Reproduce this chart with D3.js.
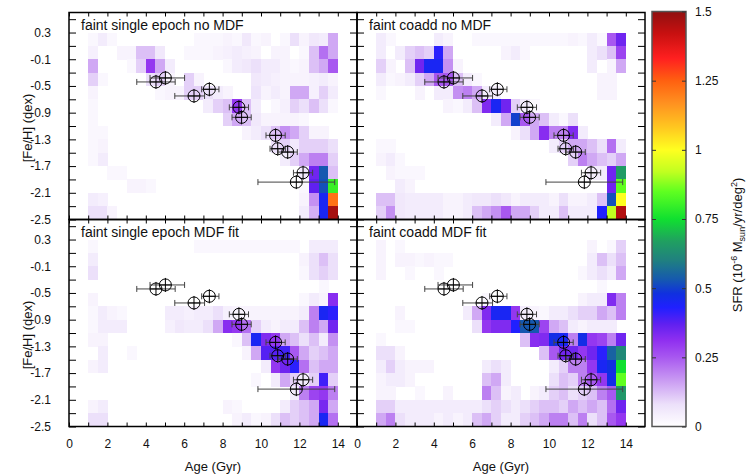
<!DOCTYPE html>
<html>
<head>
<meta charset="utf-8">
<script src="https://cdn.jsdelivr.net/npm/d3@7"></script>
<style>
body { margin: 0; background: #fff; }
svg { font-family: "Liberation Sans", Arial, Helvetica, sans-serif; }
</style>
</head>
<body>
<svg id="chart" width="747" height="476"></svg>
<script>
// bins: left edge of each age column (Gyr), top edge of each [Fe/H] row (dex)
const ageBins = [1.0, 1.5, 2.0, 2.5, 3.0, 3.5, 4.0, 4.5, 5.0, 5.5, 6.0, 6.5, 7.0, 7.5,
                 8.0, 8.5, 9.0, 9.5, 10.0, 10.5, 11.0, 11.5, 12.0, 12.5, 13.0, 13.5];
const fehBins = [0.3, 0.1, -0.1, -0.3, -0.5, -0.7, -0.9, -1.1, -1.3, -1.5, -1.7, -1.9, -2.1, -2.3];
const ageBinWidth = 0.5, fehBinWidth = 0.2;

const ageTicks = [0, 2, 4, 6, 8, 10, 12, 14];
const ageMinor = [1, 3, 5, 7, 9, 11, 13];
const fehTicks = [-2.5, -2.1, -1.7, -1.3, -0.9, -0.5, -0.1, 0.3];
const fehTickLabels = ['-2.5', '-2.1', '-1.7', '-1.3', '-0.9', '-0.5', '-0.1', '0.3'];
const fehMinor = [-2.3, -1.9, -1.5, -1.1, -0.7, -0.3, 0.1, 0.5];
const sfrTicks = [0, 0.25, 0.5, 0.75, 1, 1.25, 1.5];
const sfrTickLabels = ['0', '0.25', '0.5', '0.75', '1', '1.25', '1.5'];

// SFR per cell, rows top ([Fe/H] 0.1..0.3) to bottom, columns 1..14 Gyr
const sfrSingleNoMdf = [
  [.02,.05,.02,0,0,0,0,0,0,0,0,.02,.02,.02,.03,.02,.06,.02,.03,0,.02,.08,.03,.06,.05,.15],
  [.04,0,0,.03,.03,.12,.12,.06,0,0,.02,.02,.02,.03,.04,.05,.04,.03,0,.03,.03,0,.02,.12,.22,.15],
  [.15,0,0,0,.02,.1,.3,.15,.05,0,0,0,0,0,.02,.05,.06,.08,.05,.05,.03,.02,.03,.12,.15,.25],
  [.1,.02,0,0,0,0,.08,.1,.03,0,.1,.03,0,0,0,0,0,.06,.05,.04,.03,.03,.03,.04,.05,.03],
  [.03,0,0,0,0,0,0,.02,.03,.03,.1,.1,.08,.05,.03,0,0,.07,.03,.05,.03,.15,.15,.04,.1,.05],
  [.02,0,0,0,0,0,0,0,0,0,0,0,.05,.1,.12,.3,.12,.05,0,.02,.04,.1,.08,.12,.08,.02],
  [.02,0,0,0,0,0,0,0,0,0,0,0,0,0,.1,.15,.12,.06,.03,.03,.03,.03,.02,0,0,0],
  [.02,.02,0,0,0,0,0,0,0,0,0,0,0,0,0,0,.03,.05,.08,.12,.18,.15,.1,.03,.03,0],
  [.02,.03,0,0,0,0,0,0,0,0,0,0,0,0,0,0,0,0,0,.08,.1,.06,.1,.1,.1,.08],
  [.02,.05,0,0,0,0,0,0,0,0,0,0,0,0,0,0,0,0,0,0,.05,.1,.15,.2,.2,.1],
  [0,0,.02,.02,0,0,0,0,0,0,0,0,0,0,0,0,0,0,0,0,0,0,.06,.35,.53,.12],
  [0,0,0,0,.03,.03,.02,0,0,0,0,0,0,0,0,0,0,0,0,0,0,0,.02,.37,.52,.8],
  [.05,.04,0,0,0,0,0,0,0,0,0,0,0,0,0,0,0,0,0,0,0,0,.03,.18,.45,1.22],
  [.08,.08,.03,0,0,0,0,0,0,0,0,0,0,0,0,0,0,0,0,0,0,0,.05,.14,.45,1.47]
];
const sfrCoaddNoMdf = [
  [.05,.02,0,0,0,0,.05,.03,0,0,.02,.02,.02,.02,.02,.02,.02,.02,.02,.02,.03,.02,.05,.02,.25,.35],
  [.05,0,.05,.1,.12,.1,.42,.15,0,0,0,0,0,.03,.05,.02,0,0,0,0,0,0,.05,.08,.12,.28],
  [.1,.03,0,.12,.35,.45,.45,.18,.03,0,0,0,0,0,0,0,0,0,0,0,0,0,.05,0,.03,.15],
  [.05,.02,.03,.05,.1,.15,.25,.25,.12,.05,.02,0,0,0,0,0,0,0,0,0,0,0,0,.03,.03,0],
  [.02,0,0,0,.03,0,.05,.05,.18,.2,.15,.05,.04,0,0,0,0,0,0,0,0,0,0,.03,.03,0],
  [0,0,0,0,0,0,0,.03,.02,.05,.12,.33,.45,.35,.1,.05,.02,0,0,0,0,0,0,0,0,0],
  [0,0,0,0,0,0,0,0,0,0,0,0,.05,.15,.5,.25,.15,.12,.05,.02,.08,0,0,0,0,0],
  [0,0,0,0,0,0,0,0,0,0,0,0,0,0,.03,.08,.15,.32,.2,.2,.33,.05,0,0,0,0],
  [.02,.02,0,0,0,0,0,0,0,0,0,0,0,0,0,0,0,0,.05,.1,.15,.15,.12,.08,.22,.05],
  [.03,.05,.02,0,0,0,0,0,0,0,0,0,0,0,0,0,0,0,0,0,.1,.2,.15,.12,.1,.15],
  [0,.03,.02,.02,.02,0,0,0,0,0,0,0,0,0,0,0,0,0,0,0,0,0,.05,.05,.35,.66],
  [0,0,.05,.03,0,0,0,0,0,0,0,0,0,0,0,0,0,0,0,0,0,0,0,0,.35,.85],
  [.12,.12,.06,.05,.05,.05,.05,.03,.03,.05,.06,.06,.08,.06,.03,.05,.05,.05,.03,.08,.03,.03,.05,.12,.52,1.0],
  [.1,.18,.06,.05,.05,.05,.05,.03,.03,.05,.12,.15,.18,.25,.15,.15,.1,.05,.05,.12,.05,.05,.05,.43,.92,1.45]
];
const sfrSingleMdf = [
  [.02,0,0,0,0,0,0,0,0,0,0,.02,.02,.02,.02,.02,.02,.02,.02,.02,.02,.02,0,.05,.05,.05],
  [.05,0,0,0,0,0,0,0,0,0,0,0,0,0,0,0,0,0,0,0,0,0,.03,.08,.12,.08],
  [.08,0,0,0,0,0,0,0,0,0,0,0,0,0,0,0,0,0,0,0,0,0,.02,.08,.1,.08],
  [0,0,0,0,0,0,0,0,0,0,0,0,0,0,0,0,0,0,0,0,0,0,0,0,.02,0],
  [.03,0,0,0,0,0,0,0,0,0,0,0,0,0,0,0,0,0,0,0,0,0,.02,.05,.03,.32],
  [.02,.05,.03,.02,0,0,0,0,.05,.05,.04,.05,.05,.08,.04,.03,.03,.03,.03,.03,.03,.03,.05,.2,.45,.42],
  [.02,.05,.05,.05,0,0,0,0,.04,.06,.05,.05,.08,.15,.32,.3,.22,.1,.05,.03,.05,.05,.12,.2,.15,.35],
  [.03,.03,0,0,0,0,0,0,0,0,0,0,0,0,0,.02,.12,.45,.33,.3,.15,.12,.08,.12,.05,.18],
  [0,.05,0,0,.02,0,0,0,0,0,0,0,0,0,0,0,.03,.15,.38,.38,.4,.25,.15,.1,.12,.15],
  [.03,.05,0,0,0,0,0,0,0,0,0,0,0,0,0,0,0,0,.05,.3,.35,.42,.22,.12,.15,.15],
  [0,0,0,0,0,0,0,0,0,0,0,0,0,0,0,0,0,.02,0,.05,.15,.1,.05,.1,.4,.1],
  [0,0,0,0,0,0,0,0,0,0,0,0,0,0,0,0,0,0,0,0,0,.05,.2,.28,.3,.2],
  [.03,.05,0,0,0,0,0,0,0,0,0,0,0,0,.03,.02,0,0,0,0,.05,.1,.12,.15,.34,.15],
  [.08,.08,0,0,0,0,0,0,0,0,0,0,0,0,0,.03,.05,.02,.03,.08,.12,.1,.12,.15,.45,.22]
];
const sfrCoaddMdf = [
  [.03,0,.02,0,0,0,0,0,0,0,0,0,0,0,0,0,0,0,0,0,0,0,.03,0,.02,.1],
  [.03,0,.03,.03,.02,.03,.02,.02,0,0,0,0,0,0,0,0,0,0,0,0,0,0,.05,.12,.08,.12],
  [.03,0,0,.02,0,0,.02,0,0,0,0,0,0,0,0,0,0,0,0,0,0,.02,.05,.08,.05,.15],
  [0,0,0,0,0,0,0,0,0,0,0,0,0,0,0,0,0,0,0,0,0,0,0,.02,0,0],
  [0,0,0,0,0,0,0,0,0,0,0,.02,0,0,0,0,0,0,0,0,0,.03,.05,.05,.33,.2],
  [0,0,.03,0,0,0,0,0,0,.05,.15,.33,.45,.45,.3,.05,.03,.02,.05,.05,.08,.1,.1,.15,.12,.2],
  [0,0,.02,.02,0,0,0,0,0,0,.08,.3,.33,.33,.43,.53,.53,.28,.15,.12,.05,.03,.05,.05,.05,0],
  [.02,0,0,0,0,0,0,0,0,0,0,0,0,0,0,.12,.32,.33,.47,.45,.2,.47,.3,.28,.2,.35],
  [.08,.08,.03,0,0,0,0,0,0,0,0,0,0,0,0,0,0,.12,.25,.35,.35,.3,.35,.42,.55,.62],
  [.05,.1,.05,.03,.03,.03,0,0,0,0,0,.05,.08,.05,0,0,0,0,.05,.1,.2,.2,.3,.45,.48,.75],
  [.03,.05,.05,.03,0,0,0,0,0,0,0,.12,.15,.05,0,0,0,0,.08,.12,.1,.2,.25,.3,.47,.85],
  [.03,.03,0,0,.02,0,0,.03,0,0,0,.2,.12,.03,.05,0,.03,.05,.1,.12,.08,.1,.12,.2,.25,.65],
  [.1,.1,.05,.05,.05,.05,.05,.05,.05,.05,.05,.08,.1,.08,.05,.08,.1,.12,.12,.1,.15,.12,.15,.12,.22,.35],
  [.15,.2,.08,.05,.05,.05,.03,.05,.03,.05,.12,.15,.1,.05,.05,.1,.12,.15,.2,.2,.12,.2,.08,.12,.25,.3]
];

// star clusters overplotted on every panel
const clusterAge      = [4.53, 5.02, 6.51, 7.31, 8.85, 8.99, 10.76, 10.87, 11.39, 12.19, 11.84];
const clusterFeH      = [-0.44, -0.38, -0.65, -0.55, -0.82, -0.97, -1.24, -1.44, -1.49, -1.80, -1.94];
const clusterAgeErrLo = [1.0, 0.8, 1.0, 0.4, 0.5, 0.5, 0.5, 0.4, 0.5, 0.5, 2.0];
const clusterAgeErrHi = [1.0, 1.0, 0.55, 0.5, 0.5, 0.5, 0.5, 0.4, 0.5, 0.5, 2.0];

const panelTitles = ['faint single epoch no MDF', 'faint coadd no MDF',
                     'faint single epoch MDF fit', 'faint coadd MDF fit'];
const panelGrids = [sfrSingleNoMdf, sfrCoaddNoMdf, sfrSingleMdf, sfrCoaddMdf];

// layout
const plotLeft = 69, plotTop = 12.5, pw = 288, ph = 207;
const svg = d3.select('#chart');

const x = d3.scaleLinear().domain([0, 15]).range([0, pw]);
const y = d3.scaleLinear().domain([-2.5, 0.6]).range([ph, 0]);

const color = d3.scaleLinear()
    .domain([0, 0.08, 0.17, 0.25, 0.31, 0.37, 0.43, 0.48, 0.53, 0.6, 0.67, 0.75, 0.85, 0.92, 1.0, 1.08, 1.17, 1.25, 1.33, 1.42, 1.5])
    .range(['#ffffff', '#ece0fa', '#c898f2', '#a858f0', '#9030f0', '#6020f0', '#2020ff', '#1030e0', '#1558b0',
            '#208080', '#20a060', '#10e030', '#60ff20', '#c0ff20', '#ffff20', '#ffc820', '#ff9020', '#ff6010',
            '#ff2020', '#c81010', '#901010'])
    .interpolate(d3.interpolateRgb)
    .clamp(true);

const near = (a, b) => Math.abs(a - b) < 1e-6;

panelGrids.forEach((grid, i) => {
    const col = i % 2, row = Math.floor(i / 2);
    const g = svg.append('g')
        .attr('transform', `translate(${plotLeft + col * pw}, ${plotTop + row * ph})`);

    let cells = [];
    grid.forEach((vals, r) => vals.forEach((v, c) => {
        if (v > 0) cells.push({ age: ageBins[c], feh: fehBins[r], v: v });
    }));

    g.selectAll('rect.cell')
        .data(cells)
        .enter()
        .append('rect')
        .attr('class', 'cell')
        .attr('x', d => x(d.age))
        .attr('y', d => y(d.feh))
        .attr('width', d => x(d.age + ageBinWidth) - x(d.age) + 0.4)
        .attr('height', d => y(d.feh - fehBinWidth) - y(d.feh) + 0.4)
        .style('fill', d => color(d.v))
        .attr('shape-rendering', 'crispEdges');

    // ticks on all four sides, pointing in
    const showX = row === 1, showY = col === 0;
    const fehAll = fehTicks.concat(fehMinor);
    const fehFmt = d => {
        if (!showY) return '';
        const k = fehTicks.findIndex(t => near(t, d));
        return k >= 0 ? fehTickLabels[k] : '';
    };
    const ageFmt = d => (showX && ageTicks.includes(d)) ? String(d) : '';

    g.append('g').attr('transform', `translate(0, ${ph})`)
        .call(d3.axisBottom(x).tickValues(ageTicks.concat(ageMinor)).tickSize(-4).tickPadding(13).tickFormat(ageFmt));
    g.append('g')
        .call(d3.axisTop(x).tickValues(ageTicks.concat(ageMinor)).tickSize(-4).tickFormat(''));
    g.append('g')
        .call(d3.axisLeft(y).tickValues(fehAll).tickSize(-7).tickPadding(18).tickFormat(fehFmt));
    g.append('g').attr('transform', `translate(${pw}, 0)`)
        .call(d3.axisRight(y).tickValues(fehAll).tickSize(-7).tickFormat(''));

    g.selectAll('.domain').remove();
    g.selectAll('.tick line').attr('stroke', '#000').attr('stroke-width', 1);
    g.selectAll('.tick text').style('font-size', '12px').style('font-family', null).attr('fill', '#111');

    // clusters: horizontal error bar + circle with cross
    const pts = clusterAge.map((a, k) => ({
        age: a, feh: clusterFeH[k], lo: a - clusterAgeErrLo[k], hi: a + clusterAgeErrHi[k]
    }));
    const pg = g.selectAll('g.pt').data(pts).enter().append('g').attr('class', 'pt');
    pg.append('line')
        .attr('x1', d => x(d.lo)).attr('x2', d => x(d.hi))
        .attr('y1', d => y(d.feh)).attr('y2', d => y(d.feh))
        .attr('stroke', '#444').attr('stroke-width', 1);
    [d => d.lo, d => d.hi].forEach(f => {
        pg.append('line')
            .attr('x1', d => x(f(d))).attr('x2', d => x(f(d)))
            .attr('y1', d => y(d.feh) - 3).attr('y2', d => y(d.feh) + 3)
            .attr('stroke', '#444').attr('stroke-width', 1);
    });
    pg.append('line')
        .attr('x1', d => x(d.age)).attr('x2', d => x(d.age))
        .attr('y1', d => y(d.feh) - 7).attr('y2', d => y(d.feh) + 7)
        .attr('stroke', '#000').attr('stroke-width', 1);
    pg.append('line')
        .attr('x1', d => x(d.age) - 6).attr('x2', d => x(d.age) + 6)
        .attr('y1', d => y(d.feh)).attr('y2', d => y(d.feh))
        .attr('stroke', '#000').attr('stroke-width', 1);
    pg.append('circle')
        .attr('cx', d => x(d.age)).attr('cy', d => y(d.feh)).attr('r', 6)
        .attr('fill', 'none').attr('stroke', '#000').attr('stroke-width', 1);

    g.append('rect')
        .attr('width', pw).attr('height', ph)
        .attr('fill', 'none').attr('stroke', '#000').attr('stroke-width', 1.5);

    g.append('text')
        .attr('x', 12).attr('y', 17)
        .style('font-size', '14px')
        .attr('fill', '#111')
        .text(panelTitles[i]);

    if (showX) {
        g.append('text')
            .attr('x', pw / 2).attr('y', ph + 44)
            .attr('text-anchor', 'middle')
            .style('font-size', '13px')
            .attr('fill', '#111')
            .text('Age (Gyr)');
    }
    if (showY) {
        g.append('text')
            .attr('transform', `translate(-37.5, ${ph / 2 + 12}) rotate(-90)`)
            .attr('text-anchor', 'middle')
            .style('font-size', '13px')
            .attr('fill', '#111')
            .text('[Fe/H] (dex)');
    }
});

// colour bar
const cbX = 652, cbW = 34, cbTop = 11.5, cbBottom = 426.5;
const cbScale = d3.scaleLinear().domain([0, 1.5]).range([cbBottom, cbTop]);
const grad = svg.append('defs').append('linearGradient')
    .attr('id', 'cbgrad').attr('x1', 0).attr('y1', 1).attr('x2', 0).attr('y2', 0);
d3.range(0, 1.5001, 0.01).forEach(t => {
    grad.append('stop').attr('offset', t / 1.5).attr('stop-color', color(t));
});
svg.append('rect')
    .attr('x', cbX).attr('y', cbTop).attr('width', cbW).attr('height', cbBottom - cbTop)
    .attr('fill', 'url(#cbgrad)').attr('stroke', '#555').attr('stroke-width', 1.5);

const cbAxis = svg.append('g').attr('transform', `translate(${cbX + cbW}, 0)`)
    .call(d3.axisRight(cbScale).tickValues(sfrTicks).tickSize(-4).tickPadding(9)
        .tickFormat((d, k) => sfrTickLabels[k]));
cbAxis.select('.domain').remove();
cbAxis.selectAll('.tick line').attr('stroke', '#333');
cbAxis.selectAll('.tick text').style('font-size', '12px').style('font-family', null).attr('fill', '#111');
svg.append('g').attr('transform', `translate(${cbX}, 0)`)
    .call(d3.axisLeft(cbScale).tickValues(sfrTicks.slice(1, -1)).tickSize(-4).tickFormat(''))
    .call(a => a.select('.domain').remove())
    .selectAll('.tick line').attr('stroke', '#333');

const cbTitle = svg.append('text')
    .attr('transform', 'translate(741.5, 245) rotate(-90)')
    .attr('text-anchor', 'middle')
    .attr('fill', '#111')
    .style('font-size', '13px');
cbTitle.append('tspan').text('SFR (10');
cbTitle.append('tspan').attr('dy', -5).style('font-size', '9px').text('-6');
cbTitle.append('tspan').attr('dy', 5).text(' M');
cbTitle.append('tspan').attr('dy', 3).style('font-size', '9px').text('sun');
cbTitle.append('tspan').attr('dy', -3).text('/yr/deg');
cbTitle.append('tspan').attr('dy', -5).style('font-size', '9px').text('2');
cbTitle.append('tspan').attr('dy', 5).text(')');
</script>
</body>
</html>
